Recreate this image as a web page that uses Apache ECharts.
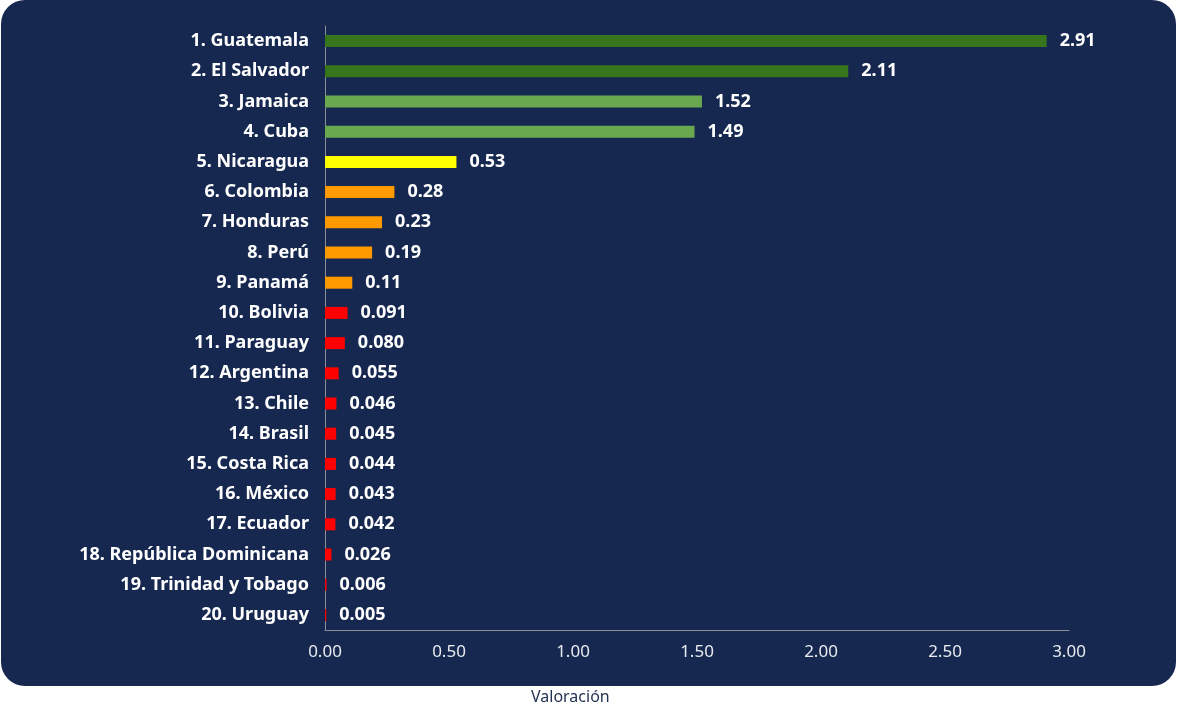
<!DOCTYPE html>
<html><head><meta charset="utf-8">
<script src="https://cdn.jsdelivr.net/npm/echarts@6/dist/echarts.min.js"></script>
<style>html,body{margin:0;padding:0;background:#fff}#c{width:1177px;height:709px}</style>
</head><body><div id="c"></div>
<script>
const categories = ["1. Guatemala","2. El Salvador","3. Jamaica","4. Cuba","5. Nicaragua","6. Colombia","7. Honduras","8. Perú","9. Panamá","10. Bolivia","11. Paraguay","12. Argentina","13. Chile","14. Brasil","15. Costa Rica","16. México","17. Ecuador","18. República Dominicana","19. Trinidad y Tobago","20. Uruguay"];
const values = [2.91,2.11,1.52,1.49,0.53,0.28,0.23,0.19,0.11,0.091,0.080,0.055,0.046,0.045,0.044,0.043,0.042,0.026,0.006,0.005];
const colors = ["#38761d","#38761d","#6aa84f","#6aa84f","#ffff00","#ff9900","#ff9900","#ff9900","#ff9900","#ff0000","#ff0000","#ff0000","#ff0000","#ff0000","#ff0000","#ff0000","#ff0000","#ff0000","#ff0000","#ff0000"];
const axisName = "Valoración";

const chart = echarts.init(document.getElementById('c'), null, {renderer:'canvas'});
const font = '"Noto Sans", Lato, sans-serif';
chart.setOption({
  backgroundColor:'#ffffff',
  animation:false,
  graphic:[
    {type:'rect', z:-10, shape:{x:1,y:0,width:1175,height:686,r:24}, style:{fill:'#16284f'}},
    {type:'text', left:531, top:689, style:{text:axisName, fill:'#1f2f4f', font:'16px '+font}}
  ],
  grid:{left:325, right:108, top:26, bottom:79, containLabel:false},
  xAxis:{type:'value', min:0, max:3, interval:0.5,
    axisLine:{show:true, lineStyle:{color:'#8a8f99', width:1}},
    axisTick:{show:false}, splitLine:{show:false},
    axisLabel:{color:'#e8ebf0', fontFamily:font, fontSize:17, margin:14, formatter:v=>v.toFixed(2)}},
  yAxis:{type:'category', data:categories, inverse:true,
    axisLine:{show:true, lineStyle:{color:'#8a8f99', width:1}},
    axisTick:{show:false},
    axisLabel:{color:'#ffffff', fontFamily:font, fontWeight:'bold', fontSize:18, margin:16}},
  series:[{type:'bar', barWidth:12,
    data:values.map((v,i)=>({value:v, itemStyle:{color:colors[i]}})),
    label:{show:true, position:'right', distance:13, color:'#ffffff', fontFamily:font, fontWeight:'bold', fontSize:18,
      formatter:p=> p.value>=0.1 ? p.value.toFixed(2) : p.value.toFixed(3)}
  }]
});
</script></body></html>
